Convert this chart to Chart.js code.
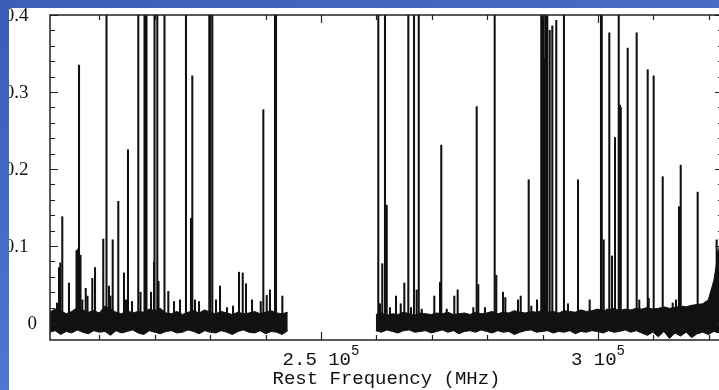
<!DOCTYPE html>
<html>
<head>
<meta charset="utf-8">
<script src="https://cdn.jsdelivr.net/npm/chart.js@4/dist/chart.umd.min.js"></script>
<style>
  html, body { margin: 0; padding: 0; overflow: hidden; background: #fff; }
  #wrap { position: relative; width: 724px; height: 390px; }
</style>
</head>
<body>
<div id="wrap"><canvas id="spectrum"></canvas></div>
<script>
// rest frequency of the lines (MHz) and their peak intensity; 0.5 = off the top of the plot
var lineFreq = [
  202350, 202710, 202940, 203300, 204510, 205870, 206000, 206140, 206250, 206320,
  206590, 206915, 207530, 207850, 208720, 209210, 210700, 211280, 211730, 212000,
  212400, 213410, 214440, 214800, 215160, 215890, 217020, 217420, 218140, 218320,
  218500, 219320, 219860, 219950, 220450, 220670, 221750, 222440, 223470, 224550,
  225630, 226530, 226770, 227260, 227980, 229840, 230000, 230380, 231050, 231770,
  233030, 234120, 235200, 235870, 236460, 237550, 239120, 239590, 240200, 240790,
  241700, 241880, 243020,
  260340, 260650, 261060, 261550, 261860, 262450, 263540, 264390, 265040, 265760,
  266250, 266790, 267270, 267640, 268180, 270450, 271480, 271710, 272690, 274060,
  274670, 277490, 278100, 278390, 279600, 281350, 281640, 282850, 283270, 285560,
  286050, 287490, 287960, 288990, 289760, 289940, 290120, 290300, 290480, 290660,
  290850, 291280, 291750, 292470, 293860, 294580, 296390, 298500, 300540, 300680,
  301030, 301620, 302040, 302530, 303070, 303740, 303970, 304110, 305360, 306980,
  307450, 308970, 309150, 310050, 311680, 313480, 314080, 314620, 314930, 317990,
  320400, 321420, 321600
];
var lineInt = [
  0.026, 0.072, 0.078, 0.138, 0.052, 0.094, 0.092, 0.096, 0.090, 0.335,
  0.088, 0.030, 0.045, 0.035, 0.058, 0.072, 0.109, 0.5, 0.048, 0.035,
  0.108, 0.158, 0.065, 0.030, 0.225, 0.028, 0.5, 0.040, 0.5, 0.5,
  0.5, 0.040, 0.079, 0.5, 0.5, 0.054, 0.5, 0.041, 0.028, 0.030,
  0.5, 0.136, 0.321, 0.030, 0.028, 0.5, 0.5, 0.5, 0.030, 0.048,
  0.020, 0.022, 0.066, 0.065, 0.051, 0.030, 0.028, 0.277, 0.036, 0.043,
  0.5, 0.5, 0.035,
  0.5, 0.025, 0.077, 0.5, 0.153, 0.020, 0.035, 0.025, 0.052, 0.5,
  0.020, 0.5, 0.043, 0.5, 0.018, 0.035, 0.053, 0.231, 0.018, 0.035,
  0.043, 0.020, 0.281, 0.050, 0.020, 0.5, 0.062, 0.040, 0.033, 0.030,
  0.035, 0.186, 0.022, 0.030, 0.5, 0.5, 0.5, 0.344, 0.5, 0.5,
  0.5, 0.380, 0.386, 0.393, 0.5, 0.025, 0.186, 0.030, 0.5, 0.5,
  0.108, 0.018, 0.377, 0.087, 0.241, 0.5, 0.283, 0.280, 0.357, 0.377,
  0.030, 0.329, 0.032, 0.321, 0.190, 0.026, 0.030, 0.151, 0.205, 0.170,
  0.040, 0.108, 0.093
];

// noise band: channels every 1000 MHz, upper and lower edge
var lowBandStart = 201000;
var lowBandHi = [0.014, 0.018, 0.016, 0.012, 0.015, 0.020, 0.017, 0.014, 0.016, 0.013,
  0.022, 0.018, 0.014, 0.012, 0.016, 0.013, 0.015, 0.014, 0.018, 0.016,
  0.019, 0.013, 0.012, 0.015, 0.011, 0.014, 0.016, 0.013, 0.017, 0.014,
  0.012, 0.015, 0.013, 0.011, 0.014, 0.012, 0.013, 0.015, 0.012, 0.014,
  0.016, 0.013, 0.012, 0.014];
var lowBandLo = [-0.012, -0.010, -0.015, -0.011, -0.013, -0.009, -0.012, -0.014, -0.010, -0.012,
  -0.011, -0.016, -0.010, -0.013, -0.011, -0.009, -0.013, -0.015, -0.010, -0.012,
  -0.014, -0.011, -0.010, -0.013, -0.012, -0.009, -0.011, -0.014, -0.010, -0.012,
  -0.013, -0.010, -0.012, -0.015, -0.011, -0.009, -0.012, -0.013, -0.010, -0.014,
  -0.011, -0.012, -0.015, -0.010];
var highBandStart = 259900;
var highBandHi = [0.011, 0.013, 0.010, 0.012, 0.011, 0.014, 0.012, 0.010, 0.013, 0.012,
  0.011, 0.013, 0.012, 0.014, 0.011, 0.012, 0.013, 0.011, 0.014, 0.012,
  0.013, 0.015, 0.012, 0.014, 0.013, 0.016, 0.014, 0.013, 0.015, 0.014,
  0.016, 0.014, 0.015, 0.013, 0.016, 0.015, 0.014, 0.017, 0.015, 0.016,
  0.018, 0.016, 0.017, 0.019, 0.016, 0.018, 0.017, 0.019, 0.018, 0.020,
  0.018, 0.019, 0.021, 0.019, 0.020, 0.022, 0.021, 0.023, 0.024, 0.025,
  0.030, 0.055, 0.100, 0.120];
var highBandLo = [-0.010, -0.012, -0.009, -0.011, -0.013, -0.010, -0.009, -0.012, -0.011, -0.010,
  -0.013, -0.011, -0.009, -0.012, -0.010, -0.014, -0.011, -0.010, -0.012, -0.009,
  -0.011, -0.013, -0.010, -0.012, -0.011, -0.015, -0.012, -0.010, -0.009, -0.012,
  -0.011, -0.010, -0.013, -0.011, -0.012, -0.010, -0.014, -0.011, -0.012, -0.010,
  -0.011, -0.013, -0.010, -0.012, -0.011, -0.009, -0.012, -0.010, -0.013, -0.016,
  -0.012, -0.018, -0.011, -0.020, -0.013, -0.017, -0.012, -0.019, -0.014, -0.012,
  -0.015, -0.011, -0.013, -0.012];
var bandStep = 1000;

// axes
var freqMin = 201083, freqMax = 322563;
var intMin = -0.0221, intMax = 0.4;
var yTickValues = [0, 0.1, 0.2, 0.3, 0.4];
var yTickLabels = ['0', '0.1', '0.2', '0.3', '0.4'];
var xTickValues = [250000, 300000];
var xTickMantissa = ['2.5 10', '3 10'];
var xTickExponent = ['5', '5'];
var yMinorStep = 0.02, xMinorStep = 10000;

function band(start, vals) {
  return vals.map(function (v, i) { return { x: start + i * bandStep, y: v }; });
}

var ink = '#111';
var labelFont = 'Liberation Mono';
var numFont = 'Liberation Serif';

// inward ticks on all four sides, frame, tick labels, blue slide frame
var framePlugin = {
  id: 'frame',
  afterDraw: function (chart) {
    var ctx = chart.ctx, a = chart.chartArea;
    var xs = chart.scales.x, ys = chart.scales.y;
    ctx.save();
    ctx.strokeStyle = '#222';
    ctx.lineWidth = 1.5;
    ctx.strokeRect(a.left, a.top, a.right - a.left, a.bottom - a.top);
    ctx.lineWidth = 1.2;
    ctx.beginPath();
    for (var v = 0; v <= intMax + 1e-9; v += yMinorStep) {
      var y = Math.round(ys.getPixelForValue(v)) + 0.5;
      var major = yTickValues.some(function (t) { return Math.abs(t - v) < 1e-6; });
      var len = major ? 8 : 5;
      ctx.moveTo(a.left, y); ctx.lineTo(a.left + len, y);
      ctx.moveTo(a.right, y); ctx.lineTo(a.right - len, y);
    }
    for (var f = 210000; f < freqMax; f += xMinorStep) {
      var x = Math.round(xs.getPixelForValue(f)) + 0.5;
      var isMajor = xTickValues.indexOf(f) >= 0;
      var l2 = isMajor ? 8 : 5;
      ctx.moveTo(x, a.bottom); ctx.lineTo(x, a.bottom - l2);
      ctx.moveTo(x, a.top); ctx.lineTo(x, a.top + l2);
    }
    ctx.stroke();

    ctx.fillStyle = ink;
    // y labels: decimals end at 28px, the lone zero sits further right as in the original
    ctx.font = '19px "' + numFont + '"';
    ctx.textAlign = 'right';
    ctx.textBaseline = 'middle';
    yTickValues.forEach(function (t, i) {
      var right = yTickLabels[i].length > 1 ? 28.5 : 37;
      ctx.fillText(yTickLabels[i], right, ys.getPixelForValue(t) + 1);
    });

    ctx.textAlign = 'left';
    ctx.textBaseline = 'alphabetic';
    xTickValues.forEach(function (t, i) {
      ctx.font = '19px "' + labelFont + '"';
      var w1 = ctx.measureText(xTickMantissa[i]).width;
      ctx.font = '14px "' + labelFont + '"';
      var w2 = ctx.measureText(xTickExponent[i]).width;
      var x0 = xs.getPixelForValue(t) - (w1 + w2) / 2;
      ctx.font = '19px "' + labelFont + '"';
      ctx.fillText(xTickMantissa[i], x0, 365);
      ctx.font = '14px "' + labelFont + '"';
      ctx.fillText(xTickExponent[i], x0 + w1, 355);
    });

    var gl = ctx.createLinearGradient(0, 0, 0, chart.height);
    gl.addColorStop(0, '#3a5bb5');
    gl.addColorStop(1, '#4d77d2');
    ctx.fillStyle = gl;
    ctx.fillRect(0, 0, 9, chart.height);
    var gt = ctx.createLinearGradient(0, 0, chart.width, 0);
    gt.addColorStop(0, '#3d5eb7');
    gt.addColorStop(1, '#4a6ac3');
    ctx.fillStyle = gt;
    ctx.fillRect(0, 0, chart.width, 8);
    ctx.restore();
  }
};

new Chart(document.getElementById('spectrum').getContext('2d'), {
  type: 'bar',
  data: {
    datasets: [{
      type: 'line',
      data: band(lowBandStart, lowBandHi),
      borderColor: ink, backgroundColor: ink, borderWidth: 1,
      pointRadius: 0, tension: 0, fill: '+1'
    }, {
      type: 'line',
      data: band(lowBandStart, lowBandLo),
      borderColor: ink, borderWidth: 1, pointRadius: 0, tension: 0, fill: false
    }, {
      type: 'line',
      data: band(highBandStart, highBandHi),
      borderColor: ink, backgroundColor: ink, borderWidth: 1,
      pointRadius: 0, tension: 0, fill: '+1'
    }, {
      type: 'line',
      data: band(highBandStart, highBandLo),
      borderColor: ink, borderWidth: 1, pointRadius: 0, tension: 0, fill: false
    }, {
      type: 'bar',
      data: lineFreq.map(function (f, i) { return { x: f, y: [0, lineInt[i]] }; }),
      backgroundColor: ink,
      barThickness: 1.4,
      grouped: false
    }]
  },
  options: {
    responsive: true,
    maintainAspectRatio: false,
    animation: false,
    layout: { padding: { top: 15, right: 1, left: 0, bottom: 0 } },
    plugins: { legend: { display: false }, tooltip: { enabled: false } },
    scales: {
      x: {
        type: 'linear',
        min: freqMin, max: freqMax,
        offset: false,
        grid: { display: false, drawTicks: false },
        border: { display: false },
        ticks: { display: false },
        title: {
          display: true,
          text: 'Rest Frequency (MHz)',
          color: ink,
          font: { family: labelFont, size: 19 },
          padding: { top: 0, bottom: 0 }
        },
        afterFit: function (scale) { scale.height = 50; }
      },
      y: {
        min: intMin, max: intMax,
        grid: { display: false, drawTicks: false },
        border: { display: false },
        ticks: { display: false },
        afterFit: function (scale) { scale.width = 50; }
      }
    }
  },
  plugins: [framePlugin]
});
</script>
</body>
</html>
